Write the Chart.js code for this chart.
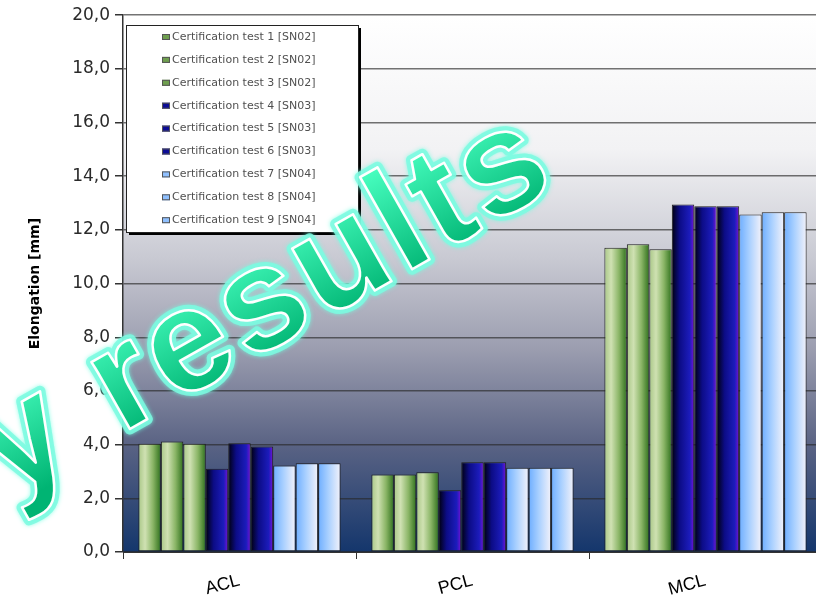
<!DOCTYPE html>
<html>
<head>
<meta charset="utf-8">
<script src="https://cdn.jsdelivr.net/npm/chart.js@4"></script>
<style>
  html, body { margin: 0; padding: 0; background: #fff; overflow: hidden; }
  #wrap { position: relative; width: 830px; height: 598px; }
</style>
</head>
<body>
<div id="wrap"><canvas id="chart"></canvas></div>
<script>
// data
const categories = ["ACL", "PCL", "MCL"];
const seriesLabels = [
  "Certification test 1 [SN02]", "Certification test 2 [SN02]", "Certification test 3 [SN02]",
  "Certification test 4 [SN03]", "Certification test 5 [SN03]", "Certification test 6 [SN03]",
  "Certification test 7 [SN04]", "Certification test 8 [SN04]", "Certification test 9 [SN04]"
];
const test1 = [4.03, 2.89, 11.34];
const test2 = [4.12, 2.89, 11.47];
const test3 = [4.03, 2.97, 11.28];
const test4 = [3.10, 2.30, 12.95];
const test5 = [4.05, 3.34, 12.88];
const test6 = [3.93, 3.34, 12.88];
const test7 = [3.22, 3.14, 12.57];
const test8 = [3.31, 3.14, 12.66];
const test9 = [3.31, 3.14, 12.66];
const seriesValues = [test1, test2, test3, test4, test5, test6, test7, test8, test9];

const greenStops = [[0, "#a9c787"], [0.3, "#cfe1b2"], [0.65, "#8ab566"], [1, "#2f701c"]];
const navyStops = [[0, "#00000e"], [0.35, "#0c0c86"], [0.8, "#1c1cbc"], [1, "#7a12d6"]];
const skyStops = [[0, "#6eaeff"], [0.45, "#a9d0ff"], [1, "#f3f2fa"]];
const groupStops = [greenStops, greenStops, greenStops, navyStops, navyStops, navyStops, skyStops, skyStops, skyStops];
const legendColors = ["#6f9f4f", "#6f9f4f", "#6f9f4f", "#0c0c96", "#0c0c96", "#0c0c96", "#8fc0ff", "#8fc0ff", "#8fc0ff"];

const catPct = 0.868;

function barGradient(stops) {
  return function (ctx) {
    const chart = ctx.chart;
    const xs = chart.scales.x;
    if (!chart.chartArea || !xs || ctx.dataIndex === undefined) return stops[1][1];
    const n = chart.data.datasets.length;
    const catW = xs.width / chart.data.labels.length;
    const groupW = catW * catPct;
    const barW = groupW / n;
    const left = xs.getPixelForValue(ctx.dataIndex) - groupW / 2 + ctx.datasetIndex * barW;
    const g = chart.ctx.createLinearGradient(left, 0, left + barW, 0);
    stops.forEach(s => g.addColorStop(s[0], s[1]));
    return g;
  };
}

// plot background: white at top, navy at bottom
const backdrop = {
  id: "backdrop",
  beforeDraw(chart) {
    const { ctx, chartArea: a } = chart;
    const g = ctx.createLinearGradient(0, a.top, 0, a.bottom);
    g.addColorStop(0, "#ffffff");
    g.addColorStop(0.25, "#f2f2f4");
    g.addColorStop(0.45, "#c9cad3");
    g.addColorStop(0.62, "#9c9eb0");
    g.addColorStop(0.8, "#5a6384");
    g.addColorStop(1, "#14366c");
    ctx.save();
    ctx.fillStyle = g;
    ctx.fillRect(a.left, a.top, a.right - a.left, a.bottom - a.top);
    ctx.restore();
  }
};

// legend box inside the plot, then the big watermark on top
const overlay = {
  id: "overlay",
  afterDraw(chart) {
    const ctx = chart.ctx;
    ctx.save();
    const bx = 126, by = 25, bw = 232, bh = 207;
    ctx.fillStyle = "#000";
    ctx.fillRect(bx + 3, by + 3, bw, bh);
    ctx.fillStyle = "#fff";
    ctx.fillRect(bx, by, bw, bh);
    ctx.strokeStyle = "#222";
    ctx.lineWidth = 1;
    ctx.strokeRect(bx + 0.5, by + 0.5, bw, bh);
    ctx.font = "11px 'DejaVu Sans'";
    ctx.textBaseline = "middle";
    chart.data.datasets.forEach((ds, i) => {
      const y = 37 + i * 22.9;
      ctx.fillStyle = legendColors[i];
      ctx.fillRect(162, y - 3, 8, 6);
      ctx.strokeStyle = "#555";
      ctx.strokeRect(162.5, y - 2.5, 7, 5);
      ctx.fillStyle = "#505050";
      ctx.fillText(ds.label, 172, y);
    });
    ctx.restore();

    ctx.save();
    ctx.translate(8, 498);
    ctx.rotate(-29.5 * Math.PI / 180);
    ctx.font = "bold 146px 'Liberation Sans', Arial";
    ctx.letterSpacing = "4px";
    ctx.textBaseline = "alphabetic";
    const txt = "y results";
    const tg = ctx.createLinearGradient(0, -108, 0, 10);
    tg.addColorStop(0, "#48ffc0");
    tg.addColorStop(1, "#00b473");
    ctx.lineJoin = "round";
    ctx.shadowColor = "rgba(110,255,225,0.9)";
    ctx.shadowBlur = 4;
    ctx.strokeStyle = "rgba(125,250,225,0.85)";
    ctx.lineWidth = 11;
    ctx.strokeText(txt, 0, 0);
    ctx.shadowBlur = 0;
    ctx.fillStyle = tg;
    ctx.fillText(txt, 0, 0);
    ctx.strokeStyle = "#ffffff";
    ctx.lineWidth = 2.5;
    ctx.strokeText(txt, 0, 0);
    ctx.restore();
  }
};

const datasets = seriesLabels.map((label, i) => ({
  label: label,
  data: seriesValues[i],
  backgroundColor: barGradient(groupStops[i]),
  borderColor: "#1e1e1e",
  borderWidth: 1,
  borderSkipped: false,
  barPercentage: 1.0,
  categoryPercentage: catPct
}));

new Chart(document.getElementById("chart"), {
  type: "bar",
  data: { labels: categories, datasets: datasets },
  options: {
    responsive: true,
    maintainAspectRatio: false,
    animation: false,
    layout: { padding: { top: 12, right: 8, left: 0, bottom: 0 } },
    plugins: {
      legend: { display: false },
      tooltip: { enabled: false }
    },
    scales: {
      x: {
        grid: { display: true, drawOnChartArea: false, drawTicks: true, tickLength: 7, color: "#333" },
        border: { color: "#333", width: 1 },
        ticks: {
          color: "#000",
          font: { family: "Arial, 'Liberation Sans'", size: 18 },
          minRotation: 15,
          maxRotation: 15,
          padding: 11
        },
        afterFit(scale) { scale.height = 46; }
      },
      y: {
        min: 0,
        max: 20,
        ticks: {
          stepSize: 2,
          color: "#2a2a2a",
          font: { family: "'DejaVu Sans'", size: 17 },
          padding: 5,
          callback: v => v.toFixed(1).replace(".", ",")
        },
        grid: { color: "rgba(40,40,40,0.65)", lineWidth: 1.5, tickLength: 8, tickColor: "#333" },
        border: { color: "#333", width: 1.5 },
        title: {
          display: true,
          text: "Elongation [mm]",
          color: "#000",
          font: { family: "'DejaVu Sans'", size: 14, weight: "bold" },
          padding: { top: 27, bottom: 0 }
        },
        afterFit(scale) { scale.width = 123; }
      }
    }
  },
  plugins: [backdrop, overlay]
});
</script>
</body>
</html>
